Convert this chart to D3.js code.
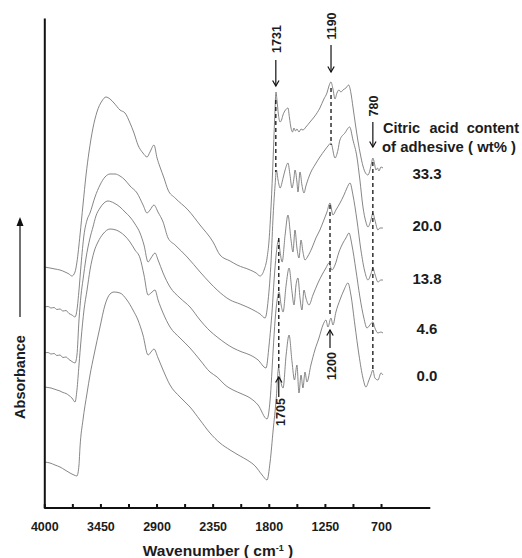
<!DOCTYPE html>
<html>
<head>
<meta charset="utf-8">
<title>FTIR spectra</title>
<script src="https://cdn.jsdelivr.net/npm/d3@7/dist/d3.min.js"></script>
<style>
    body { margin: 0; background: #fff; }
    svg text {
        font-family: "Liberation Sans", Arial, sans-serif;
        font-weight: bold;
        fill: #1c1c1c;
    }
    .spectrum { fill: none; stroke: #707070; stroke-width: 0.85px; }
    .dash { stroke: #111; stroke-width: 1.3px; stroke-dasharray: 4,3; }
    .arrow { fill: none; stroke: #111; stroke-width: 1.2px; }
    .axis path, .axis line { stroke: #111; stroke-width: 2px; }
</style>
</head>
<body>
<svg id="chart" width="522" height="558"></svg>
<script>

    // [wavenumber, absorbance (arb. units)]
    var spec333 = [[4000,24.1],[3944,24.0],[3895,23.9],[3846,23.8],[3797,23.6],[3758,23.4],[3729,23.2],
        [3699,23.6],[3680,24.6],[3650,27.3],[3621,30.3],[3591,33.3],[3562,35.6],[3523,38.0],[3484,39.6],
        [3435,40.7],[3396,41.1],[3356,40.9],[3317,40.5],[3258,39.8],[3209,39.5],[3160,38.5],[3121,37.5],
        [3082,36.3],[3033,35.5],[2993,35.1],[2964,35.6],[2925,36.3],[2895,35.0],[2866,34.1],[2827,33.0],
        [2787,31.8],[2718,31.0],[2591,29.8],[2474,28.3],[2346,26.6],[2278,25.3],[2179,24.7],[2110,24.3],
        [1983,23.8],[1924,23.5],[1885,23.2],[1846,23.8],[1817,25.0],[1797,26.8],[1777,30.3],[1758,34.8],
        [1743,38.8],[1729,41.6],[1720,40.8],[1705,39.3],[1690,38.6],[1675,38.8],[1661,39.3],[1636,39.8],
        [1612,40.0],[1597,39.0],[1582,38.0],[1568,37.6],[1553,38.0],[1538,37.7],[1524,37.9],[1504,37.6],
        [1484,37.9],[1465,37.8],[1436,38.1],[1396,38.6],[1348,39.2],[1299,40.0],[1260,40.9],[1230,41.5],
        [1210,42.2],[1191,42.6],[1171,41.9],[1151,40.9],[1132,41.5],[1112,41.8],[1093,41.6],[1073,41.8],
        [1044,42.0],[1017,42.3],[995,41.5],[975,40.1],[950,38.3],[926,36.7],[901,35.3],[877,34.2],
        [852,33.5],[828,33.3],[808,33.8],[793,34.5],[780,35.0],[765,34.5],[750,33.8],[735,34.0],
        [720,33.7],[701,34.1],[681,34.0]];

    var spec200 = [[4000,20.1],[3964,20.15],[3934,20.0],[3905,20.05],[3876,19.85],[3846,19.9],[3817,19.7],
        [3787,19.75],[3758,19.45],[3729,19.3],[3699,19.1],[3680,19.8],[3660,21.8],[3640,24.3],[3611,27.3],
        [3581,28.8],[3552,29.5],[3503,31.1],[3454,32.3],[3405,33.1],[3356,33.4],[3307,33.4],[3258,33.2],
        [3209,32.8],[3160,32.2],[3091,31.5],[3032,30.3],[2993,29.5],[2964,29.8],[2925,30.3],[2886,29.6],
        [2836,28.6],[2787,27.0],[2718,26.3],[2600,25.1],[2473,23.6],[2375,22.5],[2306,21.8],[2179,20.8],
        [2081,20.4],[2012,20.1],[1934,19.7],[1885,19.4],[1836,19.0],[1806,20.8],[1777,24.8],[1757,29.3],
        [1738,32.3],[1725,33.8],[1709,32.8],[1689,32.0],[1660,33.0],[1640,33.8],[1612,34.5],[1592,33.3],
        [1573,32.0],[1553,33.0],[1543,33.8],[1524,32.6],[1514,31.6],[1494,33.6],[1475,32.3],[1455,31.5],
        [1436,32.2],[1387,33.6],[1348,34.3],[1299,35.1],[1250,35.8],[1220,36.2],[1191,36.5],[1151,35.0],
        [1122,35.8],[1103,36.8],[1054,37.5],[1007,38.1],[975,36.8],[936,35.1],[907,32.8],[877,30.1],
        [848,28.6],[828,28.1],[799,28.8],[780,29.5],[760,28.8],[730,27.8],[711,28.0],[681,28.0]];

    var spec138 = [[4000,15.5],[3964,15.55],[3934,15.4],[3905,15.45],[3876,15.25],[3846,15.3],[3817,15.05],
        [3787,15.1],[3758,14.85],[3729,14.65],[3699,14.5],[3680,15.3],[3660,18.8],[3640,21.3],[3621,22.8],
        [3591,25.0],[3552,27.0],[3523,28.1],[3494,29.2],[3454,30.0],[3415,30.5],[3376,30.7],[3317,30.5],
        [3258,30.1],[3209,29.6],[3160,29.1],[3111,28.4],[3062,27.5],[3023,26.3],[2983,24.6],[2954,25.0],
        [2915,25.5],[2885,24.8],[2836,23.5],[2768,22.1],[2670,21.0],[2572,20.1],[2474,18.8],[2376,17.7],
        [2306,17.1],[2228,16.5],[2150,16.0],[2062,15.6],[1983,15.3],[1905,14.8],[1827,14.0],[1797,16.3],
        [1767,19.8],[1748,22.8],[1728,25.3],[1704,26.8],[1689,25.6],[1669,24.6],[1640,27.3],[1612,29.3],
        [1582,26.8],[1563,25.6],[1543,27.8],[1524,26.0],[1504,25.0],[1484,26.8],[1465,25.6],[1445,24.8],
        [1416,25.2],[1377,26.0],[1338,27.0],[1299,27.8],[1260,28.8],[1230,29.6],[1200,30.5],[1171,29.3],
        [1142,29.8],[1102,30.5],[1063,31.3],[1034,32.0],[1004,32.5],[975,31.3],[936,28.8],[897,25.8],
        [858,23.6],[828,22.8],[799,23.4],[780,24.0],[760,23.4],[730,22.6],[701,22.8],[681,22.8]];

    var spec46 = [[4000,12.1],[3964,12.05],[3934,12.0],[3905,11.9],[3876,11.8],[3846,11.7],[3817,11.55],
        [3787,11.45],[3758,11.25],[3729,11.0],[3699,10.6],[3680,11.8],[3660,14.3],[3640,16.8],[3611,19.8],
        [3581,21.8],[3552,23.8],[3513,25.6],[3474,26.6],[3425,27.4],[3356,27.9],[3297,27.8],[3258,27.6],
        [3209,27.2],[3160,26.6],[3111,25.8],[3062,25.0],[3023,23.3],[2983,21.3],[2954,21.5],[2915,21.8],
        [2885,20.8],[2836,19.5],[2768,18.1],[2670,17.0],[2572,16.0],[2474,14.8],[2376,13.6],[2306,13.1],
        [2228,12.3],[2150,11.8],[2062,11.4],[1983,11.0],[1905,10.3],[1817,8.9],[1787,10.8],[1757,15.8],
        [1738,18.8],[1718,20.8],[1699,21.6],[1679,20.3],[1660,19.6],[1630,22.3],[1601,24.0],[1572,21.6],
        [1553,20.3],[1533,22.3],[1514,23.0],[1494,21.0],[1475,19.8],[1455,21.8],[1436,21.0],[1406,20.3],
        [1367,21.3],[1318,22.5],[1279,23.3],[1240,24.0],[1210,24.5],[1181,23.8],[1151,24.3],[1112,25.6],
        [1073,26.5],[1044,27.0],[1014,27.5],[985,26.3],[946,23.8],[907,21.1],[868,19.0],[838,18.0],
        [809,18.3],[780,18.6],[760,18.0],[730,17.5],[701,17.6],[681,17.5]];

    var spec00 = [[4000,4.6],[3944,4.5],[3895,4.3],[3846,4.1],[3797,3.8],[3748,3.5],[3709,3.3],[3680,3.2],
        [3660,4.3],[3650,6.1],[3621,8.8],[3581,11.5],[3552,13.3],[3513,15.3],[3454,18.1],[3405,20.3],
        [3356,21.4],[3317,21.6],[3258,21.5],[3190,20.8],[3131,19.8],[3082,18.8],[3033,17.3],[2983,15.3],
        [2954,15.6],[2925,15.9],[2885,15.0],[2836,13.8],[2768,12.3],[2670,11.1],[2572,10.1],[2474,8.8],
        [2376,7.5],[2278,6.5],[2179,5.8],[2081,5.2],[2012,4.8],[1934,4.2],[1865,3.3],[1817,2.8],
        [1787,4.6],[1757,7.8],[1728,10.8],[1704,14.0],[1689,13.0],[1660,12.0],[1630,15.3],[1601,17.3],
        [1572,14.6],[1548,12.8],[1524,14.3],[1504,11.5],[1484,13.3],[1465,12.0],[1445,13.6],[1426,12.6],
        [1387,14.3],[1348,15.8],[1308,17.0],[1269,18.3],[1240,18.8],[1220,18.1],[1191,19.0],[1171,18.3],
        [1142,19.6],[1103,20.8],[1063,21.8],[1024,22.5],[995,21.3],[956,18.3],[916,15.3],[877,13.0],
        [848,12.1],[818,12.8],[799,13.3],[780,13.8],[760,13.0],[730,12.8],[701,13.5],[681,13.3]];

    var spectra = [spec333, spec200, spec138, spec46, spec00];
    var contentLabels = ["33.3", "20.0", "13.8", "4.6", "0.0"];
    var labelLevels = [33.5, 28.3, 23.0, 18.0, 13.3];

    var xTicks = d3.range(4000, 699, -275);
    var xTickLabels = [4000, 3450, 2900, 2350, 1800, 1250, 700];

    // peak markers: dashed guide + arrow + rotated label
    var peakMarks = [
        {label: "1731", wn: 1731, dashTop: 40.8, dashBottom: 33.6, arrowFrom: 44.8, arrowTo: 42.2, textAt: 46.9},
        {label: "1190", wn: 1190, dashTop: 42.0, dashBottom: 36.3, arrowFrom: 46.3, arrowTo: 43.6, textAt: 48.2},
        {label: "780",  wn: 780,  dashTop: 34.6, dashBottom: 13.8, arrowFrom: 38.6, arrowTo: 36.1, textAt: 40.2},
        {label: "1705", wn: 1702, dashTop: 27.0, dashBottom: 13.9, arrowFrom: 11.1, arrowTo: 13.1, textAt: 9.6},
        {label: "1200", wn: 1200, dashTop: 30.3, dashBottom: 19.2, arrowFrom: 16.0, arrowTo: 17.8, textAt: 14.2}
    ];

    var svg = d3.select("#chart");

    var x = d3.scaleLinear().domain([4000, 217]).range([44.3, 430.3]);
    var y = d3.scaleLinear().domain([0, 49]).range([508, 18]);

    var line = d3.line()
        .x(function (d) { return x(d[0]); })
        .y(function (d) { return y(d[1]); })
        .curve(d3.curveMonotoneX);

    svg.selectAll("path.spectrum")
        .data(spectra)
        .enter().append("path")
        .attr("class", "spectrum")
        .attr("d", line);

    // dashed guides
    svg.selectAll("line.dash")
        .data(peakMarks)
        .enter().append("line")
        .attr("class", "dash")
        .attr("x1", function (d) { return x(d.wn); })
        .attr("x2", function (d) { return x(d.wn); })
        .attr("y1", function (d) { return y(d.dashTop); })
        .attr("y2", function (d) { return y(d.dashBottom); });

    // arrows
    var arr = svg.selectAll("g.mark")
        .data(peakMarks)
        .enter().append("g")
        .attr("class", "mark");

    arr.append("line")
        .attr("class", "arrow")
        .attr("x1", function (d) { return x(d.wn); })
        .attr("x2", function (d) { return x(d.wn); })
        .attr("y1", function (d) { return y(d.arrowFrom); })
        .attr("y2", function (d) { return y(d.arrowTo); });

    arr.append("path")
        .attr("class", "arrow")
        .attr("d", function (d) {
            var tx = x(d.wn), ty = y(d.arrowTo);
            var s = d.arrowTo > d.arrowFrom ? 1 : -1;  // 1 = pointing up
            return "M" + (tx - 3.2) + "," + (ty + s * 5.5) + "L" + tx + "," + ty + "L" + (tx + 3.2) + "," + (ty + s * 5.5);
        });

    arr.append("text")
        .attr("transform", function (d) {
            var dx = d.arrowTo > d.arrowFrom ? 2.5 : 1;
            return "translate(" + (x(d.wn) + dx) + "," + y(d.textAt) + ") rotate(-90)";
        })
        .attr("text-anchor", "middle")
        .attr("dominant-baseline", "central")
        .style("font-size", "12.5px")
        .text(function (d) { return d.label; });

    // content labels
    svg.selectAll("text.content")
        .data(contentLabels)
        .enter().append("text")
        .attr("class", "content")
        .attr("x", 427)
        .attr("y", function (d, i) { return y(labelLevels[i]); })
        .attr("text-anchor", "middle")
        .attr("dominant-baseline", "central")
        .style("font-size", "15px")
        .text(function (d) { return d; });

    var legend = svg.append("g").style("font-size", "14.5px");
    legend.append("text").attr("x", 383).attr("y", 133).text("Citric");
    legend.append("text").attr("x", 444).attr("y", 133).attr("text-anchor", "middle").text("acid");
    legend.append("text").attr("x", 519).attr("y", 133).attr("text-anchor", "end").text("content");
    legend.append("text").attr("x", 382).attr("y", 152)
        .attr("textLength", 134).attr("lengthAdjust", "spacingAndGlyphs")
        .text("of adhesive ( wt% )");

    // axes
    var xAxis = d3.axisBottom(x)
        .tickValues(xTicks)
        .tickSize(-4)
        .tickSizeOuter(0)
        .tickPadding(14)
        .tickFormat(function (d) { return xTickLabels.indexOf(d) >= 0 ? d : ""; });

    var gx = svg.append("g")
        .attr("class", "axis")
        .attr("transform", "translate(0,508)")
        .call(xAxis);
    gx.selectAll("text")
        .style("font-size", "12.5px")
        .style("font-family", "'Liberation Sans', Arial, sans-serif")
        .attr("fill", "#1c1c1c");
    gx.select(".domain").attr("d", "M" + x(4000) + ",0H" + x(217));

    svg.append("g")
        .attr("class", "axis")
        .attr("transform", "translate(44.3,0)")
        .call(d3.axisLeft(y).tickValues([]).tickSizeOuter(0));

    var title = svg.append("text")
        .attr("x", 218)
        .attr("y", 556)
        .attr("text-anchor", "middle")
        .style("font-size", "15.5px");
    title.append("tspan").text("Wavenumber ( cm");
    title.append("tspan").attr("dy", -5).style("font-size", "9px").text("-1");
    title.append("tspan").attr("dy", 5).text(" )");

    svg.append("text")
        .attr("transform", "translate(20,377) rotate(-90)")
        .attr("text-anchor", "middle")
        .attr("dominant-baseline", "central")
        .style("font-size", "14.5px")
        .text("Absorbance");

    svg.append("line")
        .attr("class", "arrow")
        .attr("x1", 20).attr("x2", 20)
        .attr("y1", 317).attr("y2", 219);
    svg.append("path")
        .attr("d", "M16.5,226L20,217L23.5,226Z")
        .attr("fill", "#111");

</script>
</body>
</html>
